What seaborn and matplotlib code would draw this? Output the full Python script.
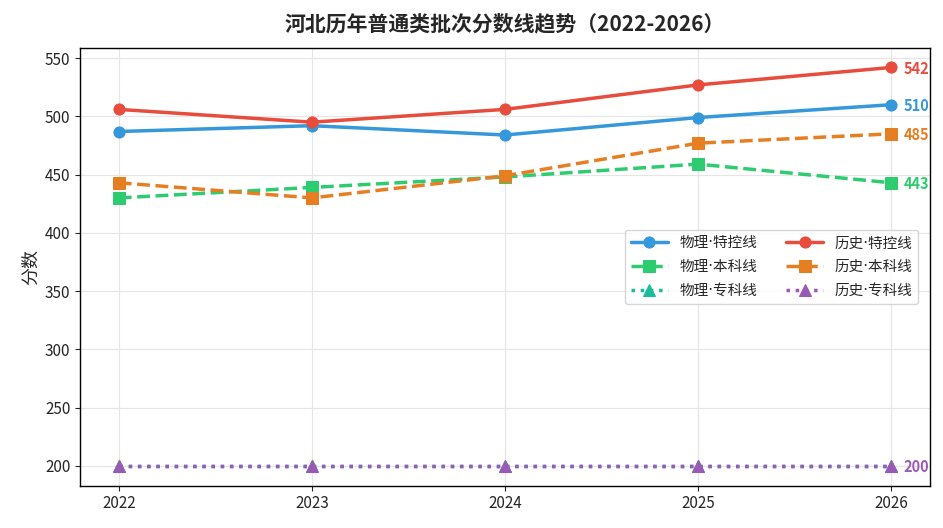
import matplotlib
matplotlib.use("Agg")
import matplotlib.pyplot as plt
import seaborn as sns
import pandas as pd

years = [2022, 2023, 2024, 2025, 2026]
phys_top = [487, 492, 484, 499, 510]
phys_ben = [430, 439, 448, 459, 443]
phys_zhuan = [200, 200, 200, 200, 200]
hist_top = [506, 495, 506, 527, 542]
hist_ben = [443, 430, 449, 477, 485]
hist_zhuan = [200, 200, 200, 200, 200]

series = [
    ("物理·特控线", phys_top, "#3498db", "-", "o"),
    ("物理·本科线", phys_ben, "#2ecc71", "--", "s"),
    ("物理·专科线", phys_zhuan, "#1abc9c", ":", "^"),
    ("历史·特控线", hist_top, "#e74c3c", "-", "o"),
    ("历史·本科线", hist_ben, "#e67e22", "--", "s"),
    ("历史·专科线", hist_zhuan, "#9b59b6", ":", "^"),
]

sns.set_style("ticks")
plt.rcParams['font.family'] = ['Noto Sans CJK SC', 'DejaVu Sans']
plt.rcParams['axes.unicode_minus'] = False

fig, ax = plt.subplots(figsize=(9.43, 5.28), dpi=100)
for name, vals, color, ls, mk in series:
    df = pd.DataFrame({"年份": years, "分数": vals})
    sns.lineplot(data=df, x="年份", y="分数", ax=ax, color=color, linestyle=ls,
                 marker=mk, markersize=8, linewidth=2.5, label=name,
                 markeredgecolor=color)

label_colors = {}
for name, vals, color, ls, mk in series:
    label_colors[vals[-1]] = color
for v, color in label_colors.items():
    ax.annotate(str(v), (years[-1], v), xytext=(9, -1), textcoords="offset points",
                color=color, fontsize=10.5, fontweight="bold",
                va="center", ha="left")

ax.set_xticks(years)
ax.set_xticklabels([str(y) for y in years], fontsize=11)
ax.tick_params(axis="y", labelsize=11)
ax.set_xlabel("")
ax.set_ylabel("分数", fontsize=13)
ax.grid(True, color="#e5e5e5", linewidth=0.8)
ax.set_axisbelow(True)
for s in ax.spines.values():
    s.set_visible(True)
    s.set_color("black")
    s.set_linewidth(1.0)

ax.set_title("河北历年普通类批次分数线趋势（2022-2026）", fontsize=15, fontweight="bold", pad=12)
leg = ax.legend(ncol=2, loc="center right", bbox_to_anchor=(0.995, 0.5),
                prop={"family": ["DejaVu Sans", "Noto Sans CJK SC"], "size": 10.5},
                frameon=True, handlelength=2.5, columnspacing=2.0, labelspacing=0.6)

fig.subplots_adjust(left=0.085, right=0.986, top=0.91, bottom=0.08)
fig.savefig("out.png", dpi=100)
